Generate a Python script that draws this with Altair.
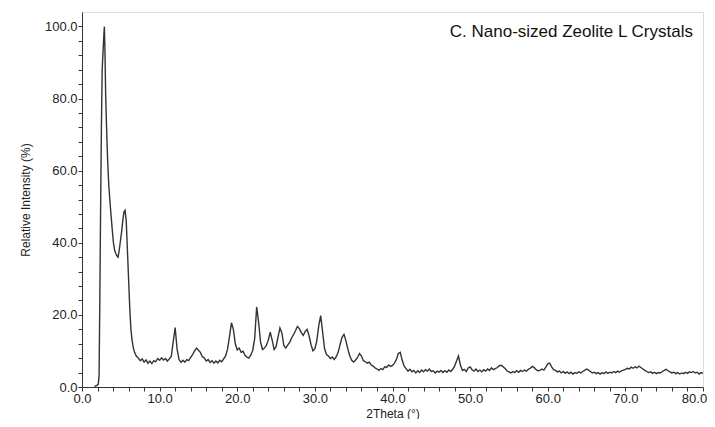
import altair as alt
import pandas as pd

# --- data ---
# low-angle region (explicit points)
early_theta = [1.6, 1.9, 2.1, 2.2, 2.3, 2.4, 2.5, 2.6, 2.7, 2.8, 2.88, 2.95, 3.05, 3.15,
               3.3, 3.45, 3.6, 3.75, 3.9, 4.05, 4.2, 4.35, 4.5, 4.65, 4.8, 4.95, 5.1,
               5.25, 5.4, 5.55, 5.7, 5.85, 6.0, 6.15, 6.3, 6.45, 6.6, 6.75, 6.9]
early_int = [0.2, 0.4, 0.8, 3.0, 25.0, 50.0, 72.0, 88.0, 92.5, 97.0, 100.0, 94.0, 81.0, 73.0,
             63.0, 56.0, 51.5, 47.5, 43.5, 40.0, 38.0, 37.0, 36.4, 36.0, 38.0, 40.5, 43.0,
             46.0, 48.5, 49.0, 46.0, 38.0, 30.0, 22.0, 16.0, 13.0, 11.0, 9.8, 9.0]

# 7.00 .. 80.00 deg sampled every 0.25 deg (rows of 5 deg)
scan_start = 7.0
scan_step = 0.25
scan_int = [
    8.6, 8.0, 7.3, 7.8, 6.9, 7.5, 6.6, 7.2, 6.5, 7.3, 7.0, 7.9, 7.4, 8.1, 7.5, 7.9, 7.2, 7.8, 8.5, 12.5,
    16.5, 10.5, 7.6, 6.8, 7.4, 6.9, 7.6, 7.3, 8.2, 9.0, 10.0, 10.8, 10.2, 9.6, 8.4, 8.1, 7.2, 7.6, 6.8, 7.3,
    6.6, 7.2, 6.7, 7.4, 7.0, 7.8, 8.6, 10.5, 14.0, 17.8, 16.0, 12.0, 10.3, 10.8, 9.6, 9.9, 8.8, 8.3, 8.0, 8.9,
    10.2, 13.5, 22.2, 18.0, 12.5, 10.4, 10.8, 11.5, 13.0, 15.2, 13.0, 10.4, 11.2, 13.8, 16.4, 15.0, 11.5, 10.8, 11.6, 12.4,
    13.6, 14.5, 15.6, 16.8, 16.2, 15.1, 14.3, 15.4, 16.0, 14.2, 11.8, 10.0, 10.6, 12.8, 17.0, 19.8, 15.2, 10.6, 9.0, 8.6,
    7.9, 8.3, 7.6, 8.4, 9.6, 11.8, 13.8, 14.6, 12.8, 10.5, 8.6, 7.4, 6.9, 7.5, 8.2, 9.3, 8.6, 7.3, 7.0, 6.6,
    6.9, 6.1, 5.8, 5.3, 5.0, 4.6, 5.1, 4.8, 5.6, 5.4, 6.1, 5.7, 6.0, 6.6, 7.6, 9.3, 9.6, 7.4, 5.8, 5.1,
    4.4, 4.9, 4.2, 4.6, 3.9, 4.5, 4.0, 4.7, 4.2, 4.8, 4.4, 5.0, 4.3, 4.5, 3.9, 4.4, 4.1, 4.6, 4.0, 4.5,
    4.1, 4.7, 4.3, 4.9, 5.8, 7.2, 8.6, 6.1, 4.6, 4.9, 4.3, 5.3, 5.6, 4.8, 4.4, 5.0, 4.3, 4.7, 4.2, 4.8,
    4.4, 5.0, 4.6, 5.3, 4.8, 5.1, 5.4, 5.9, 6.0, 5.6, 5.1, 4.5, 4.2, 3.9, 4.3, 4.0, 4.5, 4.1, 4.6, 4.3,
    4.7, 4.4, 4.9, 5.2, 5.7, 5.4, 4.8, 4.5, 4.6, 5.0, 4.7, 5.5, 6.4, 6.6, 5.6, 4.8, 4.6, 4.2, 4.4, 3.9,
    4.3, 3.8, 4.2, 3.7, 4.1, 3.6, 4.0, 3.8, 4.2, 3.9, 4.3, 4.6, 5.0, 4.7, 4.3, 3.9, 4.1, 3.7, 4.0, 3.6,
    4.0, 3.7, 4.2, 3.8, 4.1, 3.9, 4.3, 4.0, 4.4, 4.1, 4.5, 4.7, 4.9, 5.2, 5.0, 5.5, 5.2, 5.6, 5.3, 5.8,
    5.4, 5.0, 4.6, 4.3, 4.0, 4.2, 3.8, 4.1, 3.7, 4.0, 3.9, 4.3, 4.6, 4.9, 4.5, 4.2, 3.9, 4.1, 3.7, 4.0,
    3.6, 3.9, 3.7, 4.1, 3.8, 4.2, 4.0, 4.3, 3.9, 4.1, 3.6, 4.0, 3.8,
]

x_ticks = [0, 2, 4, 6, 8, 10, 12, 14, 16, 18, 20, 22, 24, 26, 28, 30, 32, 34, 36, 38, 40,
           42, 44, 46, 48, 50, 52, 54, 56, 58, 60, 62, 64, 66, 68, 70, 72, 74, 76, 78, 80]
y_ticks = [0, 4, 8, 12, 16, 20, 24, 28, 32, 36, 40, 44, 48, 52, 56, 60, 64, 68, 72, 76, 80,
           84, 88, 92, 96, 100]

annot_text = ["C. Nano-sized Zeolite L Crystals"]
annot_x = [78.7]
annot_y = [97.2]

# --- build table ---
theta = list(early_theta) + [round(scan_start + scan_step * i, 2) for i in range(len(scan_int))]
inten = list(early_int) + list(scan_int)
df = pd.DataFrame({"theta": theta, "intensity": inten})
ann = pd.DataFrame({"label": annot_text, "x": annot_x, "y": annot_y})

FONT = "Liberation Sans"

xscale = alt.Scale(domain=[0, 80], nice=False, zero=False)
yscale = alt.Scale(domain=[0, 104], nice=False)

common = dict(tickSize=4, grid=False, domainColor="#333", tickColor="#333",
              labelColor="#222", titleColor="#222", labelFont=FONT, titleFont=FONT,
              labelFontSize=13, titleFontSize=12, titleFontWeight="normal",
              labelFlush=False, labelOverlap=False, labelBound=False)

line = alt.Chart(df).mark_line(color="#333333", strokeWidth=1.4).encode(
    x=alt.X("theta:Q", scale=xscale, title="2Theta (°)",
            axis=alt.Axis(values=x_ticks, tickCount=len(x_ticks),
                          labelExpr="datum.value % 10 == 0 ? format(datum.value, '.1f') : ''",
                          labelOffset={"condition": {"test": "datum.value == 80", "value": -9},
                                       "value": 0},
                          labelPadding=1, titleY=30, titleBaseline="alphabetic", **common)),
    y=alt.Y("intensity:Q", scale=yscale, title="Relative Intensity (%)",
            axis=alt.Axis(values=y_ticks, tickCount=len(y_ticks),
                          labelExpr="datum.value % 20 == 0 ? format(datum.value, '.1f') : ''",
                          labelPadding=1, titlePadding=12, **common)),
    order="theta:Q",
)

label = alt.Chart(ann).mark_text(align="right", baseline="alphabetic", font=FONT,
                                 fontSize=17, color="#111").encode(
    x=alt.X("x:Q", scale=xscale),
    y=alt.Y("y:Q", scale=yscale),
    text="label:N",
)

chart = (line + label).properties(
    width=621, height=375,
    autosize=alt.AutoSizeParams(type="none"),
    padding={"left": 74, "top": 4, "right": 4, "bottom": 32},
).configure_view(stroke="#666", strokeWidth=1).configure(background="white")

chart.save("out.html", embed_options={"renderer": "svg", "actions": False})
